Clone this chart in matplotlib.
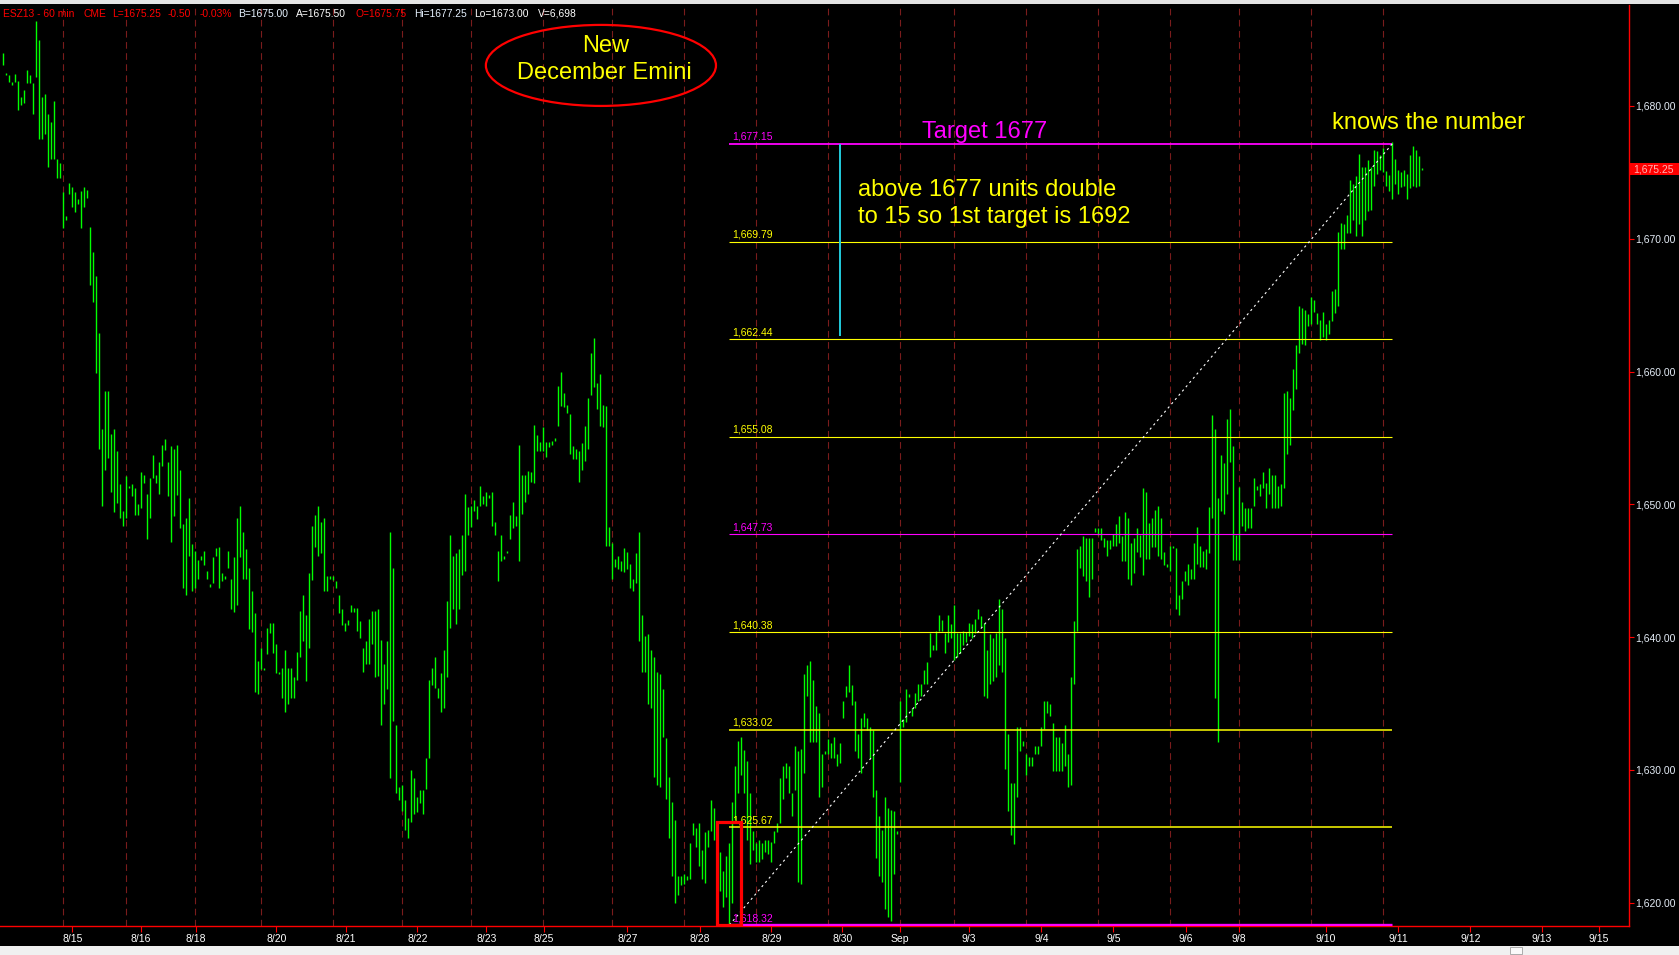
import matplotlib
matplotlib.use("Agg")
import matplotlib.pyplot as plt
from matplotlib.patches import Ellipse, Rectangle
import numpy as np

plt.rcParams['font.family'] = ['Liberation Sans', 'DejaVu Sans']

# ESZ13 60 min bars, (high, low) per bar, one list per session
aug14 = [(1684.0, 1683.1), (1682.5, 1682.3), (1682.3, 1681.8), (1681.8, 1681.6), (1682.4, 1681.8),
         (1681.9, 1679.7), (1680.7, 1680.1), (1681.2, 1680.2), (1682.7, 1681.7), (1682.3, 1681.7),
         (1681.7, 1679.4), (1686.4, 1682.2), (1685.0, 1677.5), (1680.7, 1677.5), (1680.9, 1677.9),
         (1679.4, 1675.4), (1678.8, 1676.0), (1680.4, 1676.0), (1676.0, 1674.6), (1675.7, 1674.6)]
aug15 = [(1673.5, 1670.8), (1671.7, 1671.4), (1674.2, 1673.4), (1673.9, 1672.4), (1673.5, 1672.0),
         (1673.0, 1672.6), (1673.6, 1670.8), (1673.9, 1672.4), (1673.7, 1673.1), (1670.9, 1666.5),
         (1669.0, 1665.2), (1667.2, 1659.9), (1662.9, 1654.2), (1655.7, 1649.9), (1658.5, 1652.6),
         (1658.5, 1653.5), (1655.3, 1650.9), (1655.7, 1649.4), (1654.0, 1650.1), (1651.5, 1649.0),
         (1649.5, 1648.4)]
aug16 = [(1652.1, 1649.0), (1651.4, 1651.2), (1651.5, 1650.6), (1651.2, 1649.2), (1650.0, 1649.2),
         (1652.4, 1649.7), (1652.2, 1651.6), (1650.8, 1647.4), (1652.0, 1649.0), (1653.7, 1652.0),
         (1652.2, 1651.6), (1653.2, 1650.8), (1654.5, 1652.9), (1654.9, 1654.1), (1653.2, 1650.6),
         (1654.4, 1647.2), (1654.2, 1649.1), (1654.5, 1650.7), (1652.6, 1648.2), (1648.5, 1643.7),
         (1649.0, 1643.2), (1650.5, 1646.1), (1647.0, 1643.5)]
aug19 = [(1646.5, 1643.7), (1645.8, 1644.4), (1646.1, 1645.8), (1646.5, 1645.4), (1645.0, 1644.4),
         (1644.0, 1643.8), (1646.0, 1644.1), (1646.7, 1646.1), (1646.8, 1643.7), (1644.8, 1644.2),
         (1644.6, 1644.4), (1646.5, 1645.2), (1644.4, 1642.1), (1646.0, 1641.9), (1649.0, 1642.4),
         (1649.9, 1646.0), (1647.9, 1644.4), (1646.6, 1644.4), (1645.2, 1640.6), (1643.5, 1640.4),
         (1641.8, 1635.9), (1638.2, 1635.7)]
aug20 = [(1639.2, 1637.6), (1637.7, 1637.5), (1640.7, 1638.7), (1641.1, 1640.3), (1641.1, 1638.8),
         (1639.5, 1637.3), (1637.4, 1637.2), (1637.7, 1635.4), (1639.0, 1634.4), (1637.7, 1635.0),
         (1637.7, 1635.4), (1637.0, 1635.4), (1638.9, 1636.8), (1642.0, 1638.5), (1643.2, 1639.7),
         (1641.7, 1636.7), (1644.8, 1639.2), (1648.4, 1644.3), (1649.2, 1646.8), (1649.9, 1646.1),
         (1648.7, 1646.3), (1649.0, 1643.5), (1644.6, 1643.5), (1644.6, 1644.4)]
aug21 = [(1644.6, 1644.3), (1644.2, 1643.7), (1643.2, 1641.8), (1642.1, 1640.9), (1641.1, 1640.5),
         (1641.3, 1640.9), (1642.4, 1641.9), (1642.2, 1641.9), (1642.2, 1640.5), (1641.2, 1639.9),
         (1639.2, 1637.4), (1639.7, 1638.0), (1641.4, 1638.0), (1642.0, 1639.5), (1642.0, 1637.0),
         (1642.1, 1637.1), (1639.8, 1633.4), (1638.0, 1635.0), (1639.7, 1636.1), (1647.9, 1629.4),
         (1645.2, 1633.7), (1633.4, 1628.3), (1628.7, 1627.7)]
aug22 = [(1628.9, 1626.9), (1627.7, 1625.5), (1626.4, 1624.9), (1630.0, 1626.1), (1629.4, 1626.7),
         (1628.0, 1626.8), (1628.5, 1627.5), (1628.5, 1626.7), (1630.9, 1628.6), (1636.8, 1630.9),
         (1637.7, 1636.4), (1638.5, 1636.2), (1636.2, 1635.4), (1637.3, 1634.4), (1639.0, 1634.7),
         (1642.7, 1637.0), (1647.7, 1640.7), (1646.1, 1642.1), (1646.3, 1641.0), (1646.6, 1642.1),
         (1647.7, 1644.7), (1650.8, 1645.0), (1649.8, 1647.7)]
aug23 = [(1649.9, 1648.3), (1650.3, 1649.5), (1649.9, 1648.9), (1651.4, 1649.9), (1650.6, 1650.0),
         (1650.9, 1649.9), (1650.7, 1650.5), (1650.9, 1648.4), (1648.7, 1647.7), (1646.5, 1644.2),
         (1647.7, 1645.7), (1646.1, 1645.9), (1646.5, 1646.3), (1649.2, 1647.4), (1650.2, 1648.2),
         (1649.1, 1648.4), (1654.5, 1645.7), (1652.2, 1649.3), (1652.2, 1650.2), (1652.5, 1650.8),
         (1652.4, 1651.7), (1656.0, 1651.6), (1655.2, 1654.0), (1654.7, 1654.0)]
aug26 = [(1655.8, 1654.0), (1654.7, 1653.6), (1654.7, 1654.3), (1654.8, 1654.5), (1655.0, 1654.8),
         (1658.9, 1655.9), (1660.0, 1657.4), (1658.4, 1657.3), (1657.5, 1656.9), (1656.8, 1653.8),
         (1654.4, 1653.4), (1654.2, 1653.4), (1654.0, 1651.7), (1654.6, 1652.6), (1655.9, 1653.3),
         (1658.0, 1654.2), (1661.4, 1658.2), (1662.5, 1658.8), (1659.1, 1657.2), (1659.8, 1655.9),
         (1657.5, 1655.8), (1657.4, 1646.9), (1648.3, 1646.9)]
aug27 = [(1647.1, 1644.4), (1645.9, 1645.3), (1646.1, 1645.1), (1645.7, 1645.0), (1646.7, 1644.9),
         (1646.4, 1645.1), (1645.5, 1643.7), (1644.4, 1643.5), (1646.3, 1644.1), (1647.9, 1639.7),
         (1641.7, 1637.4), (1640.1, 1637.4), (1640.2, 1635.0), (1639.0, 1634.7), (1638.5, 1629.5),
         (1637.4, 1628.9), (1637.2, 1628.7), (1636.1, 1632.5), (1632.4, 1627.8), (1629.5, 1624.9),
         (1627.6, 1622.0), (1626.2, 1620.0), (1622.0, 1620.6), (1622.0, 1621.3)]
aug28 = [(1622.2, 1621.4), (1622.0, 1621.7), (1624.5, 1621.8), (1626.0, 1625.1), (1625.6, 1624.2),
         (1626.0, 1622.8), (1624.0, 1621.8), (1625.3, 1621.5), (1625.5, 1624.2), (1627.7, 1625.4),
         (1627.1, 1624.7), (1625.1, 1622.2), (1623.8, 1620.9), (1622.4, 1619.7), (1623.5, 1620.4),
         (1624.5, 1618.25), (1627.6, 1620.0), (1630.3, 1626.2), (1632.2, 1628.3), (1632.5, 1629.6),
         (1631.5, 1628.3), (1630.7, 1624.7), (1628.3, 1622.9), (1625.4, 1624.0)]
aug29 = [(1624.5, 1623.1), (1624.7, 1623.1), (1624.5, 1623.3), (1624.7, 1623.8), (1624.7, 1623.7),
         (1624.6, 1623.1), (1625.4, 1624.5), (1626.0, 1625.3), (1629.4, 1626.0), (1630.3, 1627.8),
         (1630.5, 1629.4), (1630.3, 1628.3), (1628.3, 1626.5), (1631.8, 1628.5), (1631.4, 1621.6),
         (1631.6, 1621.4), (1637.2, 1629.8), (1637.9, 1635.6), (1638.2, 1632.1), (1636.8, 1632.1),
         (1634.8, 1632.1), (1634.3, 1628.0), (1631.2, 1628.7), (1631.4, 1631.2)]
aug30 = [(1632.3, 1631.2), (1632.0, 1630.9), (1632.5, 1630.9), (1631.2, 1630.3), (1632.0, 1630.5),
         (1635.2, 1633.9), (1636.3, 1635.5), (1637.9, 1635.9), (1636.4, 1634.9), (1635.2, 1631.4),
         (1632.7, 1630.9), (1633.9, 1629.8), (1634.3, 1633.2), (1633.9, 1633.0), (1633.2, 1630.9),
         (1633.0, 1628.0), (1628.5, 1623.4), (1626.5, 1622.0), (1625.5, 1621.6), (1628.0, 1619.5),
         (1627.1, 1618.9), (1627.0, 1618.6), (1626.9, 1622.2), (1625.4, 1625.2)]
sep02 = [(1635.2, 1629.1), (1633.8, 1633.2), (1636.1, 1633.6), (1635.7, 1635.5), (1634.7, 1634.1),
         (1635.8, 1634.7), (1636.5, 1635.2), (1636.5, 1635.6), (1637.5, 1636.5), (1638.1, 1636.5),
         (1640.3, 1638.5), (1639.4, 1639.0), (1640.5, 1639.0), (1641.7, 1640.5), (1641.3, 1640.5),
         (1640.3, 1638.8), (1641.7, 1639.6), (1641.0, 1639.9)]
sep03 = [(1642.4, 1638.3), (1640.3, 1638.5), (1640.3, 1638.8), (1640.5, 1639.4), (1640.4, 1639.6),
         (1641.1, 1640.1), (1641.0, 1639.9), (1641.4, 1640.3), (1642.1, 1641.4), (1641.6, 1640.8),
         (1641.1, 1635.6), (1639.0, 1635.4), (1640.2, 1636.5), (1639.9, 1636.7), (1640.3, 1637.0),
         (1642.9, 1637.9), (1642.1, 1637.4), (1639.9, 1630.1), (1632.7, 1626.9), (1629.0, 1625.1),
         (1629.0, 1624.4), (1633.2, 1628.0), (1633.2, 1631.4), (1632.2, 1631.8)]
sep04 = [(1631.2, 1629.6), (1631.0, 1630.3), (1631.0, 1630.3), (1631.8, 1631.2), (1631.8, 1631.2),
         (1633.2, 1631.8), (1635.2, 1633.1), (1635.2, 1634.3), (1635.0, 1634.1), (1633.5, 1629.9),
         (1632.5, 1629.9), (1632.5, 1629.9), (1632.0, 1629.9), (1633.4, 1630.3), (1631.2, 1628.7),
         (1637.0, 1628.9), (1641.2, 1636.5), (1646.6, 1640.5), (1646.9, 1645.2), (1647.6, 1644.6),
         (1647.5, 1644.2), (1647.5, 1643.0), (1647.5, 1644.4), (1648.2, 1647.9)]
sep05 = [(1648.2, 1647.7), (1648.2, 1647.3), (1647.5, 1646.8), (1647.3, 1646.1), (1647.3, 1646.6),
         (1647.8, 1646.9), (1648.5, 1646.9), (1649.1, 1647.1), (1647.6, 1645.7), (1649.4, 1645.7),
         (1649.0, 1644.4), (1647.1, 1643.9), (1647.5, 1644.8), (1648.2, 1646.4), (1647.7, 1646.0),
         (1651.2, 1644.7), (1650.9, 1645.9), (1648.6, 1645.9), (1649.0, 1646.8), (1649.6, 1646.8),
         (1649.9, 1646.1), (1649.0, 1645.9), (1646.4, 1645.4), (1645.5, 1645.3)]
sep06 = [(1646.9, 1645.0), (1646.9, 1646.7), (1646.7, 1642.1), (1643.2, 1641.7), (1644.2, 1642.9),
         (1645.0, 1644.2), (1645.5, 1643.9), (1645.1, 1644.4), (1647.1, 1644.4), (1648.3, 1645.5),
         (1646.9, 1645.3), (1646.5, 1645.3), (1646.6, 1645.1), (1649.8, 1646.3), (1656.7, 1649.0),
         (1655.7, 1635.4), (1650.5, 1632.1), (1653.7, 1649.5), (1653.1, 1649.3), (1656.4, 1650.8),
         (1657.2, 1653.2), (1654.4, 1645.8), (1647.7, 1645.8)]
sep09 = [(1651.3, 1645.8), (1650.2, 1648.4), (1649.7, 1648.0), (1649.7, 1648.2), (1649.7, 1648.2),
         (1652.0, 1649.9), (1651.4, 1651.1), (1651.5, 1650.6), (1652.4, 1651.2), (1651.6, 1649.7),
         (1652.7, 1650.8), (1652.2, 1649.7), (1652.2, 1649.7), (1651.4, 1649.7), (1651.5, 1649.9),
         (1658.4, 1651.2), (1658.5, 1653.8), (1658.0, 1654.5), (1660.2, 1657.1), (1662.0, 1658.7),
         (1664.9, 1661.4), (1664.8, 1662.1), (1664.6, 1662.0), (1664.3, 1663.4)]
sep10 = [(1665.6, 1663.6), (1665.4, 1664.5), (1664.4, 1663.6), (1663.9, 1662.4), (1664.5, 1662.6),
         (1663.6, 1662.4), (1663.9, 1662.8), (1666.1, 1663.8), (1666.2, 1664.4), (1670.5, 1664.9),
         (1671.2, 1669.2), (1671.1, 1669.2), (1671.8, 1670.4), (1674.4, 1670.4), (1674.1, 1671.4),
         (1674.7, 1670.2), (1676.4, 1671.1), (1675.4, 1670.2), (1675.4, 1671.4), (1675.9, 1672.1),
         (1675.4, 1672.2), (1676.7, 1674.0), (1676.6, 1674.9), (1676.3, 1675.2)]
sep11 = [(1676.8, 1675.0), (1675.1, 1674.0), (1674.8, 1673.6), (1677.25, 1673.0), (1676.0, 1674.1),
         (1675.2, 1673.4), (1675.0, 1673.9), (1675.2, 1674.0), (1674.9, 1673.0), (1676.3, 1673.8),
         (1677.0, 1674.0), (1676.7, 1673.9), (1676.2, 1674.0), (1675.3, 1675.2)]

sessions = [aug14, aug15, aug16, aug19, aug20, aug21, aug22, aug23, aug26, aug27, aug28,
            aug29, aug30, sep02, sep03, sep04, sep05, sep06, sep09, sep10, sep11]

date_labels = ['8/15', '8/16', '8/18', '8/20', '8/21', '8/22', '8/23', '8/25', '8/27', '8/28',
               '8/29', '8/30', 'Sep', '9/3', '9/4', '9/5', '9/6', '9/8', '9/10', '9/11',
               '9/12', '9/13', '9/15']
date_pos = [23.0, 45.9, 64.1, 91.0, 114.1, 138.0, 161.0, 180.1, 208.0, 232.1, 256.0, 279.6,
            298.9, 321.9, 346.0, 370.0, 394.1, 411.9, 440.8, 464.9, 489.0, 512.9, 531.9]

fib_levels = [1677.15, 1669.79, 1662.44, 1655.08, 1647.73, 1640.38, 1633.02, 1625.67, 1618.32]
fib_colors = ['#ff00ff', '#ffff00', '#ffff00', '#ffff00', '#ff00ff', '#ffff00', '#ffff00', '#ffff00', '#ff00ff']
fib_widths = [1.3, 0.8, 0.8, 0.8, 0.8, 0.8, 1.1, 1.1, 2.4]

last_price = 1675.25
header = [("ESZ13 - 60 min", '#ff0000', 3), ("CME", '#ff0000', 83), ("L=1675.25", '#ff0000', 112),
          ("-0.50", '#ff0000', 168), ("-0.03%", '#ff0000', 200), ("B=1675.00", '#e6f2ff', 238),
          ("A=1675.50", '#ffffff', 296), ("O=1675.75", '#ff0000', 355), ("Hi=1677.25", '#e6f2ff', 414),
          ("Lo=1673.00", '#ffffff', 474), ("V=6,698", '#ffffff', 538)]

bars = np.array([b for s in sessions for b in s])
highs = bars[:, 0]
lows = bars[:, 1]
x = np.arange(len(bars))
session_starts = np.cumsum([len(s) for s in sessions])[:-1]

W, H = 1679, 955
fig = plt.figure(figsize=(W / 100, H / 100), dpi=100, facecolor='black')
ax = fig.add_axes([0, 1 - 926 / H, 1628.5 / W, (926 - 5) / H])
ax.set_facecolor('black')

for s in session_starts:
    ax.axvline(s, color='#7a1c1c', lw=0.8, ls=(0, (6, 4)), zorder=1)

ax.vlines(x, lows, highs, color='#00ff00', lw=1.0, zorder=3)

# fib retracement from the low to the high
i_lo = int(np.argmin(lows))
i_hi = i_lo + int(np.argmax(highs[i_lo:]))
for lev, col, lw in zip(fib_levels, fib_colors, fib_widths):
    ax.hlines(lev, i_lo, i_hi, color=col, lw=lw, zorder=4)
    ax.text(i_lo + 0.8, lev + 0.3, f'{lev:,.2f}', color=col, fontsize=7.5,
            ha='left', va='baseline', zorder=5)
ax.plot([i_lo, i_hi], [fib_levels[-1], fib_levels[0]], color='white', lw=0.8,
        ls=(0, (2, 3)), zorder=4)

ax.vlines(278.9, 1662.7, fib_levels[0], color='#22ccdd', lw=1.4, zorder=4)
ax.add_patch(Rectangle((237.8, 1618.35), 8.0, 7.7, fill=False, ec='#ff0000', lw=2.3, zorder=5))
ax.add_patch(Ellipse((199.2, 1683.05), 76.7, 6.1, fill=False, ec='#ff0000', lw=1.6, zorder=5))

ax.text(200.9, 1684.5, 'New', color='#ffff00', fontsize=17, ha='center', va='center')
ax.text(200.4, 1682.5, 'December Emini', color='#ffff00', fontsize=17, ha='center', va='center')
ax.text(327.0, 1678.05, 'Target 1677', color='#ff00ff', fontsize=17, ha='center', va='center')
ax.text(285.0, 1673.67, 'above 1677 units double', color='#ffff00', fontsize=17, ha='left', va='center')
ax.text(285.0, 1671.65, 'to 15 so 1st target is 1692', color='#ffff00', fontsize=17, ha='left', va='center')
ax.text(475.0, 1678.7, 'knows the number', color='#ffff00', fontsize=17, ha='center', va='center')

ax.set_xlim(-1.11, 1628.5 / 3 - 1.11)
ax.set_ylim(1618.25, 1687.6)

ax.set_xticks(date_pos, date_labels)
yt = np.arange(1620, 1681, 10)
ax.set_yticks(yt, [f'{v:,.2f}' for v in yt])
ax.yaxis.tick_right()
ax.tick_params(axis='x', colors='#ff0000', labelcolor='white', labelsize=7.5, length=4, width=0.8, pad=2)
ax.tick_params(axis='y', colors='#ff0000', labelcolor='#e4ecf6', labelsize=7.5, length=3.5, width=0.8, pad=1.5)
for side in ['top', 'left']:
    ax.spines[side].set_visible(False)
for side in ['right', 'bottom']:
    ax.spines[side].set_color('#ff0000')
    ax.spines[side].set_linewidth(1.0)

# last price marker on the price scale
ax.add_patch(Rectangle((1.0, last_price - 0.45), 51 / 1628.5, 0.9, transform=ax.get_yaxis_transform(),
                       fc='#ff0000', ec='none', clip_on=False, zorder=6))
ax.text(1.0 + 5 / 1628.5, last_price, f'{last_price:,.2f}', transform=ax.get_yaxis_transform(),
        color='#ffb4b4', fontsize=7.5, ha='left', va='center', clip_on=False, zorder=7)

for txt, col, px in header:
    fig.text(px / W, 1 - 14 / H, txt, color=col, fontsize=7.4, ha='left', va='center')

# window chrome: top strip and bottom scroll bar
fig.patches.append(Rectangle((0, 1 - 4 / H), 1, 4 / H, transform=fig.transFigure, fc='#e4e4e4', ec='none'))
fig.patches.append(Rectangle((0, 0), 1, 9 / H, transform=fig.transFigure, fc='#f0f0f0', ec='none'))
fig.patches.append(Rectangle((1510 / W, 1 / H), 12 / W, 7 / H, transform=fig.transFigure,
                             fc='#fafafa', ec='#a0a0a0', lw=0.6))

fig.savefig('out.png', dpi=100, facecolor='black')
